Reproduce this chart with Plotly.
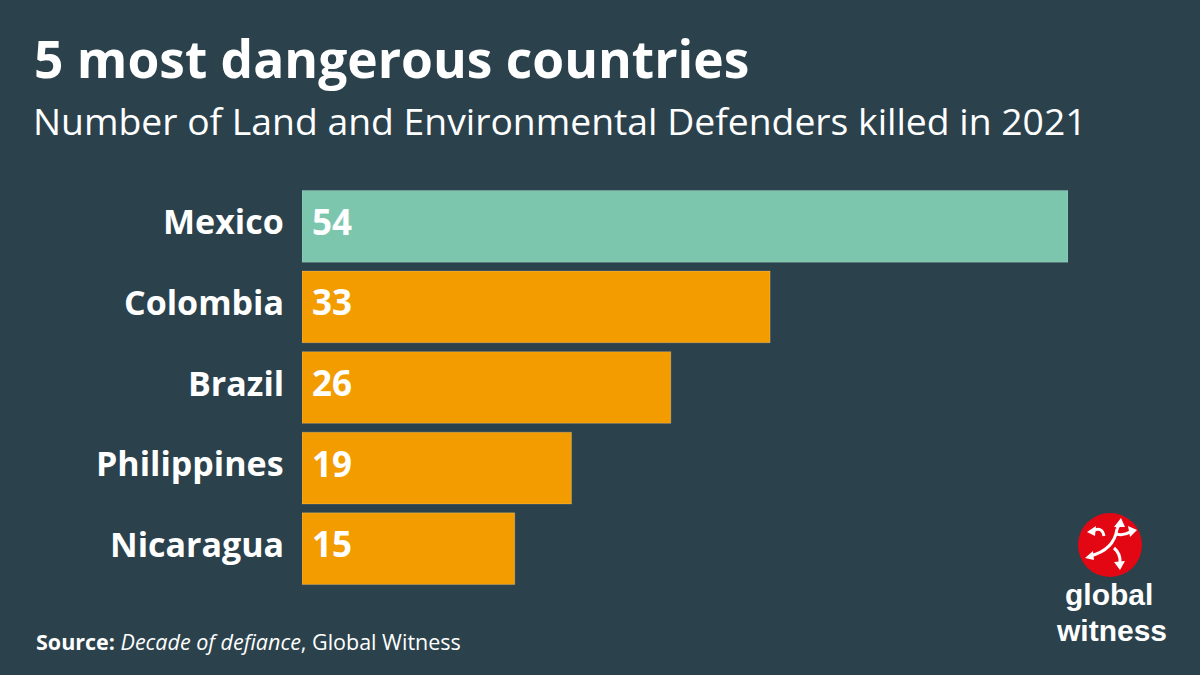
import plotly.graph_objects as go

countries = ["Mexico", "Colombia", "Brazil", "Philippines", "Nicaragua"]
killed = [54, 33, 26, 19, 15]
bar_colors = ["#7BC6AD", "#F39C00", "#F39C00", "#F39C00", "#F39C00"]

BG = "#2B424D"
FONT = "Open Sans"

# plot area in pixels
L, R, T, B = 302, 1068, 186, 589
PW, PH = R - L, B - T

def px(x):
    return (x - L) / PW

def py(y):
    return (B - y) / PH

fig = go.Figure(go.Bar(
    x=killed, y=countries, orientation="h",
    marker=dict(color=bar_colors, line=dict(color="rgba(255,255,255,0.2)", width=1)),
    cliponaxis=False, width=0.89, hoverinfo="x+y",
))

fig.update_layout(
    width=1200, height=675,
    paper_bgcolor=BG, plot_bgcolor=BG,
    margin=dict(l=L, r=1200 - R, t=T, b=675 - B),
    showlegend=False,
    xaxis=dict(range=[0, 54], visible=False, fixedrange=True),
    yaxis=dict(autorange="reversed", showgrid=False, zeroline=False, showline=False,
               showticklabels=False, ticks="", fixedrange=True),
    font=dict(family=FONT, color="white"),
)

# category labels and value labels
for c, v in zip(countries, killed):
    fig.add_annotation(text=f"<b>{c}</b>", x=0, y=c, xref="x", yref="y",
                       xanchor="right", yanchor="middle", xshift=-16, yshift=5,
                       showarrow=False, font=dict(family=FONT, size=34, color="white"))
    fig.add_annotation(text=f"<b>{v}</b>", x=0, y=c, xref="x", yref="y",
                       xanchor="left", yanchor="middle", xshift=8, yshift=5,
                       showarrow=False, font=dict(family=FONT, size=35, color="white"))

fig.add_annotation(text="<b>5 most dangerous countries</b>", xref="paper", yref="paper",
                   x=px(32), xanchor="left", y=py(58), yanchor="middle",
                   showarrow=False, font=dict(family=FONT, size=51.5, color="white"))
fig.add_annotation(text="Number of Land and Environmental Defenders killed in 2021", xref="paper", yref="paper",
                   x=px(31), xanchor="left", y=py(120), yanchor="middle",
                   showarrow=False, font=dict(family=FONT, size=37.3, color="white"))
fig.add_annotation(text="<b>Source:</b> <i>Decade of defiance</i>, Global Witness", xref="paper", yref="paper",
                   x=px(34), xanchor="left", y=py(641), yanchor="middle",
                   showarrow=False, font=dict(family=FONT, size=21.5, color="white"))

# logo
cx, cy, r = 1110, 545, 32
fig.add_shape(type="circle", xref="paper", yref="paper",
              x0=px(cx - r), x1=px(cx + r), y0=py(cy + r), y1=py(cy - r),
              fillcolor="#E30613", line=dict(width=0))

def P(x, y):
    return f"{px(x):.5f},{py(y):.5f}"

curves = [
    f"M{P(1104,536)} Q{P(1102,526)} {P(1093,531)}",
    f"M{P(1117,529)} Q{P(1114,550)} {P(1090,556)}",
    f"M{P(1114,548)} Q{P(1121,554)} {P(1120,563)}",
    f"M{P(1116,534)} Q{P(1124,536)} {P(1130,532)}",
    f"M{P(1117,529)} L{P(1119,525)}",
]
for p in curves:
    fig.add_shape(type="path", xref="paper", yref="paper", path=p,
                  line=dict(color="white", width=3))
heads = [
    f"M{P(1087,532)} L{P(1096,526)} L{P(1095,536)} Z",
    f"M{P(1085,558)} L{P(1093,551)} L{P(1094,560)} Z",
    f"M{P(1120,570)} L{P(1114,562)} L{P(1125,561)} Z",
    f"M{P(1137,530)} L{P(1128,526)} L{P(1130,537)} Z",
    f"M{P(1121,518)} L{P(1114,527)} L{P(1125,527)} Z",
]
for p in heads:
    fig.add_shape(type="path", xref="paper", yref="paper", path=p,
                  fillcolor="white", line=dict(width=0))

fig.add_annotation(text="<b>global</b>", xref="paper", yref="paper",
                   x=px(1109), xanchor="center", y=py(613), yanchor="bottom",
                   height=34, valign="middle",
                   showarrow=False, font=dict(family="Liberation Sans", size=30, color="white"))
fig.add_annotation(text="<b>witness</b>", xref="paper", yref="paper",
                   x=px(1111), xanchor="center", y=py(613), yanchor="top",
                   height=30, valign="middle",
                   showarrow=False, font=dict(family="Liberation Sans", size=30, color="white"))

fig.write_html("out.html", config={"displayModeBar": False},
               post_script="document.body.style.margin='0';document.body.style.background='%s';" % BG)
